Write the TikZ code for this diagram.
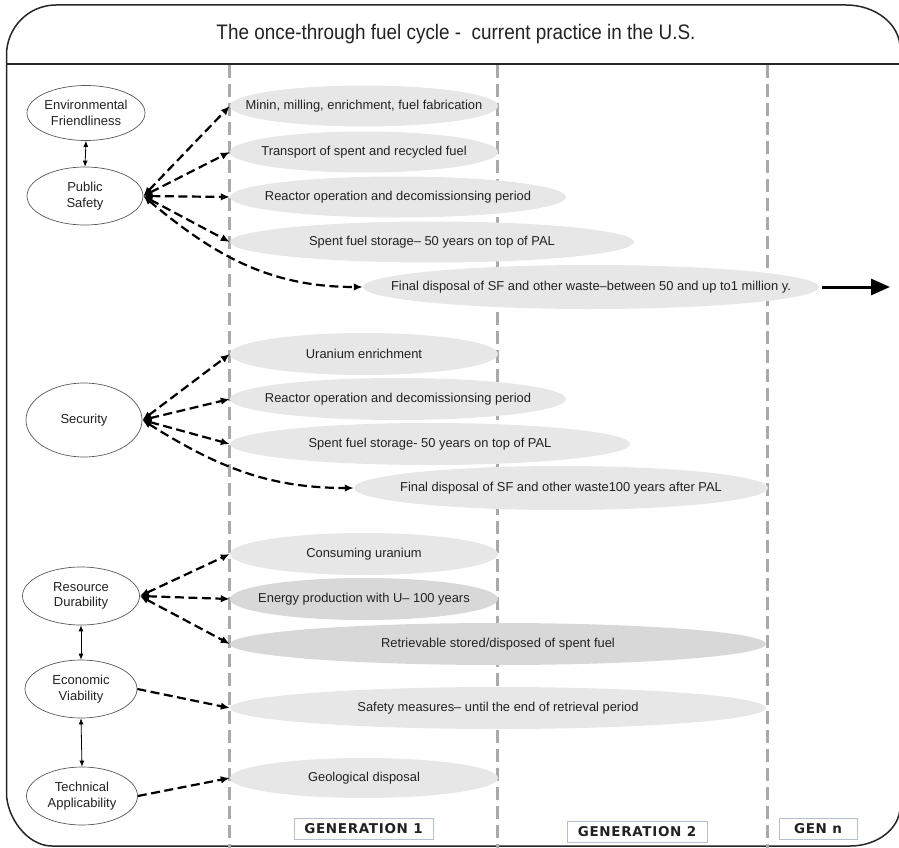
\documentclass[tikz,border=0pt]{standalone}
\usepackage{fontspec}
\setmainfont{Liberation Sans}
\newfontfamily\titlefont[FakeStretch=0.9]{Liberation Sans}
\newfontfamily\genfont[LetterSpace=5]{DejaVu Sans}
\usetikzlibrary{shapes.geometric,arrows.meta}

\definecolor{txt}{HTML}{222222}
\definecolor{lightfill}{HTML}{E7E7E7}
\definecolor{darkfill}{HTML}{D8D8D8}
\definecolor{eraline}{HTML}{AAAAAA}
\definecolor{boxline}{HTML}{B4C0D0}

\begin{document}
\begin{tikzpicture}[x=1pt,y=-1pt,
  crit/.style={ellipse, draw=black!65, line width=0.7pt, fill=white, inner sep=0pt,
    align=center, text=txt, font=\fontsize{13}{15.5}\selectfont},
  phase/.style={ellipse, fill=lightfill, inner sep=0pt, minimum height=41},
  phasedark/.style={phase, fill=darkfill},
  phasetext/.style={text=txt, inner sep=0pt, font=\fontsize{12.9}{14}\selectfont},
  genbox/.style={draw=boxline, line width=0.8pt, fill=white, inner sep=0pt,
    minimum height=21, text=txt, font=\genfont\bfseries\fontsize{13.5}{15}\selectfont},
  link/.style={black, line width=2.2pt, dash pattern=on 9pt off 4.5pt,
    >={Latex[length=9pt,width=7.5pt]}, ->},
  duallink/.style={link, <->},
  pair/.style={black, line width=0.8pt, >={Latex[length=6pt,width=5pt]}, <->},
  era/.style={eraline, line width=3pt, dash pattern=on 13pt off 6pt},
  bigarrow/.style={black, line width=3pt, -{Triangle[length=19pt,width=16pt]}},
]
\useasboundingbox (0,0) rectangle (899,848);

% outer frame with rounded corners and the title strip
\draw[black!85, line width=1.5pt]
  (6.5,55) .. controls (6.5,27.4) and (28.7,5) .. (56,5)
  -- (846,5) .. controls (875.6,5) and (900,24.3) .. (900,48)
  -- (900,807) .. controls (900,828.5) and (877.4,846) .. (850,846)
  -- (52,846) .. controls (26.9,846) and (6.5,816.7) .. (6.5,793)
  -- cycle;
\draw[black!85, line width=1.5pt] (6.5,64) -- (900,64);

\node[anchor=base, text=txt, inner sep=0pt, font=\titlefont\fontsize{21}{24}\selectfont]
  (title) at (456,40) {The once-through fuel cycle -\ \ current practice in the U.S.};

% generation boundaries
\draw[era] (229.5,65) -- (229.5,848);
\draw[era] (497.5,65) -- (497.5,848);
\draw[era] (767,65) -- (767,848);

% life-cycle phases
\node[phase, minimum width=268, label={[phasetext]center:{Minin, milling, enrichment, fuel fabrication}}] (m1) at (364,106) {};
\node[phase, minimum width=268, label={[phasetext]center:{Transport of spent and recycled fuel}}] (m2) at (364,152) {};
\node[phase, minimum width=336, label={[phasetext]center:{Reactor operation and decomissionsing period}}] (m3) at (398,197) {};
\node[phase, minimum width=404, label={[phasetext]center:{Spent fuel storage– 50 years on top of PAL}}] (m4) at (432,242) {};
\node[phase, minimum width=456, minimum height=44, label={[phasetext]center:{Final disposal of SF and other waste–between 50 and up to1 million y.}}] (m5) at (591,287) {};

\node[phase, minimum width=268, minimum height=42, label={[phasetext]center:{Uranium enrichment}}] (s1) at (364,354) {};
\node[phase, minimum width=336, minimum height=42, label={[phasetext]center:{Reactor operation and decomissionsing period}}] (s2) at (398,399) {};
\node[phase, minimum width=400, minimum height=42, label={[phasetext]center:{Spent fuel storage- 50 years on top of PAL}}] (s3) at (430,444) {};
\node[phase, minimum width=414, minimum height=44, label={[phasetext]center:{Final disposal of SF and other waste100 years after PAL}}] (s4) at (561,488) {};

\node[phase, minimum width=268, minimum height=42, label={[phasetext]center:{Consuming uranium}}] (r1) at (364,554) {};
\node[phasedark, minimum width=268, minimum height=42, label={[phasetext]center:{Energy production with U– 100 years}}] (r2) at (364,599) {};
\node[phasedark, minimum width=536, minimum height=42, label={[phasetext]center:{Retrievable stored/disposed of spent fuel}}] (r3) at (498,644) {};
\node[phase, minimum width=536, minimum height=42, label={[phasetext]center:{Safety measures– until the end of retrieval period}}] (r4) at (498,708) {};
\node[phase, minimum width=268, minimum height=40, label={[phasetext]center:{Geological disposal}}] (r5) at (364,778) {};

% criteria
\node[crit, minimum width=118, minimum height=55] (ef) at (86,113) {Environmental\\Friendliness};
\node[crit, minimum width=116, minimum height=58] (ps) at (85,196) {Public\\Safety};
\node[crit, minimum width=116, minimum height=74] (se) at (84,420) {Security};
\node[crit, minimum width=117, minimum height=58] (rd) at (81,596) {Resource\\Durability};
\node[crit, minimum width=112, minimum height=58] (ev) at (81,689) {Economic\\Viability};
\node[crit, minimum width=111, minimum height=58] (ta) at (82,796) {Technical\\Applicability};

\draw[pair] (ef.south) -- (ps.north);
\draw[pair] (rd.south) -- (ev.north);
\draw[pair] (ev.south) -- (ta.north);

% links from criteria to phases
\draw[duallink] (ps.east) -- (m1.west);
\draw[duallink] (ps.east) -- (m2.west);
\draw[duallink] (ps.east) -- (m3.west);
\draw[duallink] (ps.east) -- (m4.west);
\draw[duallink] (ps.east) to[out=-40,in=180] (m5.west);

\draw[duallink] (se.east) -- (s1.west);
\draw[duallink] (se.east) -- (s2.west);
\draw[duallink] (se.east) -- (s3.west);
\draw[duallink] (se.east) to[out=-32,in=180] (s4.west);

\draw[duallink] (rd.east) -- (r1.west);
\draw[duallink] (rd.east) -- (r2.west);
\draw[duallink] (rd.east) -- (r3.west);
\draw[link] (ev.east) -- (r4.west);
\draw[link] (ta.east) -- (r5.west);

% continuation beyond the last generation
\coordinate (beyond) at (890,287);
\draw[bigarrow, shorten <=3pt] (m5.east) -- (beyond);

% generation labels
\node[genbox, minimum width=139] (g1) at (363.5,828.5) {GENERATION 1};
\node[genbox, minimum width=140] (g2) at (637,831.5) {GENERATION 2};
\node[genbox, minimum width=78] (gn) at (818,828.5) {GEN n};
\end{tikzpicture}
\end{document}
